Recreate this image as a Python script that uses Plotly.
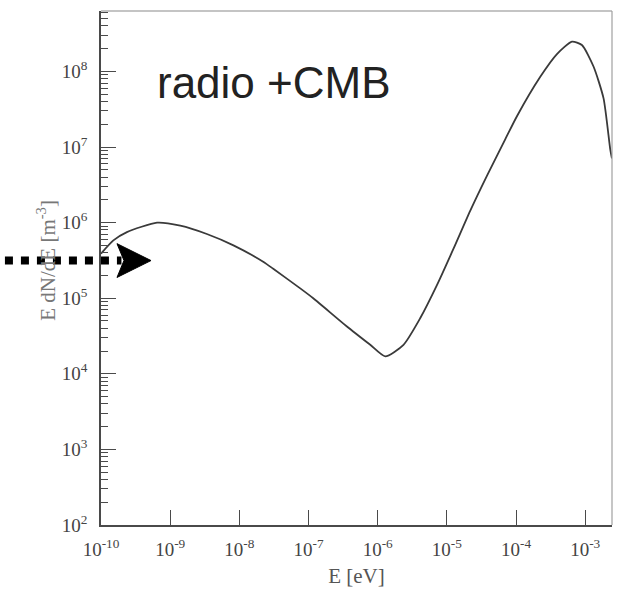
import plotly.graph_objects as go

# Energy [eV] and E dN/dE [m^-3]
energy_eV = [1.0e-10, 1.51e-10, 2.37e-10, 6.46e-10, 1.40e-9, 3.39e-9, 8.22e-9,
             2.24e-8, 3.09e-8, 7.59e-8, 1.17e-7, 3.59e-7, 7.80e-7, 1.285e-6,
             2.36e-6, 4.11e-6, 7.18e-6, 1.247e-5, 2.18e-5, 3.79e-5, 6.97e-5,
             1.03e-4, 2.24e-4, 3.90e-4, 6.43e-4, 8.95e-4, 1.318e-3, 1.841e-3,
             2.30e-3, 2.432e-3]
density = [3.89e5, 5.82e5, 7.50e5, 1.0e6, 9.12e5, 7.08e5, 5.01e5,
           3.02e5, 2.45e5, 1.35e5, 1.0e5, 4.23e4, 2.42e4, 1.70e4,
           2.42e4, 5.43e4, 1.489e5, 4.52e5, 1.442e6, 4.16e6, 1.265e7,
           2.56e7, 8.51e7, 1.70e8, 2.48e8, 2.24e8, 1.164e8, 4.40e7,
           9.33e6, 7.08e6]

x_tickvals = [1e-10, 1e-9, 1e-8, 1e-7, 1e-6, 1e-5, 1e-4, 1e-3]
x_ticktext = ["10<sup>-10</sup>", "10<sup>-9</sup>", "10<sup>-8</sup>", "10<sup>-7</sup>",
              "10<sup>-6</sup>", "10<sup>-5</sup>", "10<sup>-4</sup>", "10<sup>-3</sup>"]
y_tickvals = [1e2, 1e3, 1e4, 1e5, 1e6, 1e7, 1e8]
y_ticktext = ["10<sup>2</sup>", "10<sup>3</sup>", "10<sup>4</sup>", "10<sup>5</sup>",
              "10<sup>6</sup>", "10<sup>7</sup>", "10<sup>8</sup>"]

serif = "Liberation Serif, Times New Roman, serif"

fig = go.Figure()
fig.add_trace(go.Scatter(x=energy_eV, y=density, mode="lines",
                         line=dict(color="#3a3a3a", width=1.8, shape="spline", smoothing=0.6),
                         showlegend=False, hoverinfo="skip"))

fig.update_layout(
    width=624, height=595,
    margin=dict(l=101, r=12, t=11, b=67),
    paper_bgcolor="white", plot_bgcolor="white",
    xaxis=dict(type="log", range=[-10, -2.613], showgrid=False, zeroline=False,
               showline=True, linecolor="#4a4a4a", linewidth=1.6,
               ticks="inside", ticklen=15, tickwidth=1.3, tickcolor="#4a4a4a",
               tickvals=x_tickvals, ticktext=x_ticktext, ticklabelstandoff=6,
               tickfont=dict(family=serif, size=19, color="#444444"),
               title=dict(text="E [eV]", font=dict(family=serif, size=21, color="#555555"),
                          standoff=10)),
    yaxis=dict(type="log", range=[2, 8.8], showgrid=False, zeroline=False,
               showline=True, linecolor="#4a4a4a", linewidth=1.6,
               ticks="inside", ticklen=15, tickwidth=1.3, tickcolor="#4a4a4a",
               tickvals=y_tickvals, ticktext=y_ticktext, ticklabelstandoff=8,
               minor=dict(ticks="inside", ticklen=7, tickwidth=1.2, tickcolor="#4a4a4a",
                          dtick="D1", showgrid=False),
               tickfont=dict(family=serif, size=19, color="#444444")),
)

# y-axis title (placed as rotated text to match the reference position)
fig.add_annotation(xref="paper", yref="paper", x=-0.1057, y=0.516, xanchor="center",
                   yanchor="middle", textangle=-90, showarrow=False,
                   text="E dN/dE [m<sup>-3</sup>]",
                   font=dict(family=serif, size=21, color="#777777"))

# top and right frame lines
fig.add_shape(type="line", xref="paper", yref="paper", x0=0, x1=1, y0=1, y1=1,
              line=dict(color="#8a8a8a", width=1.2))
fig.add_shape(type="line", xref="paper", yref="paper", x0=1, x1=1, y0=0, y1=1,
              line=dict(color="#a0a0a0", width=1.2))

# dotted arrow pointing at the curve
arrow_y = 0.5145
fig.add_shape(type="line", xref="paper", yref="paper", x0=-0.188, x1=0.04,
              y0=arrow_y, y1=arrow_y, line=dict(color="black", width=8, dash="8px,8px"))
fig.add_shape(type="path", xref="paper", yref="paper",
              path="M 0.0979 0.5145 L 0.0313 0.5474 L 0.0450 0.5145 L 0.0313 0.4816 Z",
              fillcolor="black", line=dict(color="black", width=1))

fig.add_annotation(xref="paper", yref="paper", x=0.1057, y=0.861, xanchor="left",
                   yanchor="middle", text="radio +CMB", showarrow=False,
                   font=dict(family="Liberation Sans, Arial, sans-serif", size=44, color="#222222"))

fig.write_html("out.html")
